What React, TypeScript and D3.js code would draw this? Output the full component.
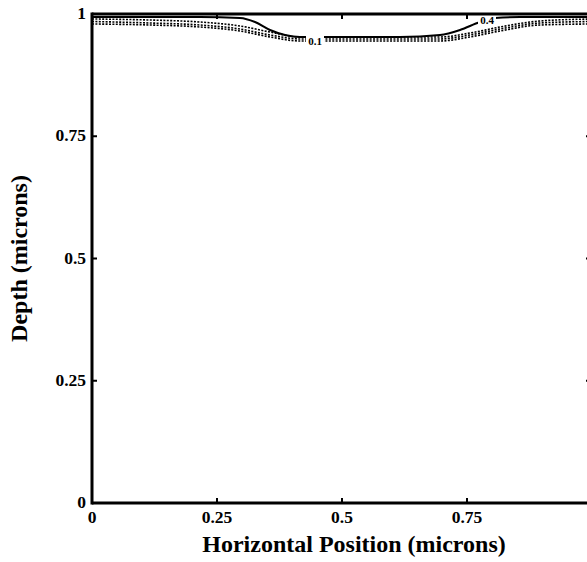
import React from "react";
import * as d3 from "d3";

// Axis ticks (microns)
const xTicks = [0, 0.25, 0.5, 0.75, 1];
const yTicks = [0, 0.25, 0.5, 0.75, 1];
const xTickLabels = ["0", "0.25", "0.5", "0.75", ""];
const yTickLabels = ["0", "0.25", "0.5", "0.75", "1"];

// Contour traces: [horizontal position, depth] in microns
const contourSolid: [number, number][] = [
  [0, 0.9939], [0.116, 0.9939], [0.216, 0.9939], [0.296, 0.9918], [0.326, 0.9836],
  [0.356, 0.9673], [0.386, 0.9571], [0.416, 0.953], [0.496, 0.953], [0.616, 0.953],
  [0.696, 0.9571], [0.736, 0.9673], [0.776, 0.9836], [0.806, 0.9918], [0.856, 0.9939],
  [1, 0.9939],
];
const contourDotA: [number, number][] = [
  [0, 0.9898], [0.116, 0.9877], [0.216, 0.9836], [0.296, 0.9755], [0.356, 0.9632],
  [0.416, 0.953], [0.696, 0.953], [0.756, 0.9611], [0.816, 0.9734], [0.896, 0.9857],
  [1, 0.9898],
];
const contourDotB: [number, number][] = [
  [0, 0.9847], [0.116, 0.9816], [0.216, 0.9775], [0.296, 0.9693], [0.356, 0.9571],
  [0.416, 0.9489], [0.696, 0.9489], [0.756, 0.9571], [0.816, 0.9693], [0.896, 0.9816],
  [1, 0.9847],
];
const contourDotC: [number, number][] = [
  [0, 0.9796], [0.116, 0.9775], [0.216, 0.9734], [0.296, 0.9652], [0.356, 0.953],
  [0.416, 0.9448], [0.696, 0.9448], [0.756, 0.953], [0.816, 0.9652], [0.896, 0.9775],
  [1, 0.9796],
];
// Inline level labels: [x, depth, text]
const contourLabels: [number, number, string][] = [
  [0.79, 0.9877, "0.4"],
  [0.446, 0.9448, "0.1"],
];

const W = 587;
const H = 562;
const font = "'Liberation Serif', 'Times New Roman', serif";

export default function App() {
  const x = d3.scaleLinear().domain([0, 1]).range([92, 592]);
  const y = d3.scaleLinear().domain([0, 1]).range([503, 14]);
  const line = d3
    .line<[number, number]>()
    .x((d) => x(d[0]))
    .y((d) => y(d[1]))
    .curve(d3.curveMonotoneX);

  const dotted = [contourDotA, contourDotB, contourDotC];

  return (
    <svg
      width={W}
      height={H}
      style={{ position: "absolute", left: 0, top: 0, background: "#fff" }}
      fontFamily={font}
      fontWeight="bold"
    >
      <rect x={0} y={0} width={W} height={H} fill="#fff" />

      {/* contour lines */}
      <g fill="none" stroke="#000">
        {dotted.map((c, i) => (
          <path key={i} d={line(c) || ""} strokeWidth={1.6} strokeDasharray="2,1.4" />
        ))}
        <path d={line(contourSolid) || ""} strokeWidth={2} />
      </g>
      {contourLabels.map(([lx, ly, t], i) => (
        <g key={i}>
          <rect x={x(lx) - 9} y={y(ly) - 5} width={18} height={10} fill="#fff" />
          <text x={x(lx)} y={y(ly) + 4} fontSize={11} textAnchor="middle">
            {t}
          </text>
        </g>
      ))}

      {/* frame */}
      <g stroke="#000" fill="none">
        <line x1={x(0)} x2={x(0)} y1={y(0) + 1.5} y2={y(1) - 1.5} strokeWidth={3} />
        <line x1={x(0)} x2={x(1)} y1={y(0)} y2={y(0)} strokeWidth={3} />
        <line x1={x(0)} x2={x(1)} y1={y(1)} y2={y(1)} strokeWidth={3} />
        <line x1={x(1)} x2={x(1)} y1={y(0)} y2={y(1)} strokeWidth={3} />
      </g>

      {/* ticks, pointing inward */}
      <g stroke="#000" strokeWidth={2}>
        {xTicks.map((t, i) => (
          <g key={"x" + i}>
            <line x1={x(t)} x2={x(t)} y1={y(0)} y2={y(0) - 5} />
            <line x1={x(t)} x2={x(t)} y1={y(1)} y2={y(1) + 5} />
          </g>
        ))}
        {yTicks.map((t, i) => (
          <g key={"y" + i}>
            <line x1={x(0)} x2={x(0) + 5} y1={y(t)} y2={y(t)} />
            <line x1={x(1)} x2={x(1) - 6} y1={y(t)} y2={y(t)} />
          </g>
        ))}
      </g>

      {/* tick labels */}
      <g fontSize={17.5} fill="#000">
        {xTicks.map((t, i) =>
          xTickLabels[i] ? (
            <text key={"xl" + i} x={x(t)} y={523} textAnchor="middle">
              {xTickLabels[i]}
            </text>
          ) : null
        )}
        {yTicks.map((t, i) => (
          <text key={"yl" + i} x={86} y={y(t) + 5} textAnchor="end">
            {yTickLabels[i]}
          </text>
        ))}
      </g>

      {/* axis titles */}
      <text x={354} y={552} fontSize={24} textAnchor="middle">
        Horizontal Position (microns)
      </text>
      <text
        transform={`translate(27, ${y(0.5)}) rotate(-90)`}
        fontSize={24}
        textAnchor="middle"
      >
        Depth (microns)
      </text>
    </svg>
  );
}
